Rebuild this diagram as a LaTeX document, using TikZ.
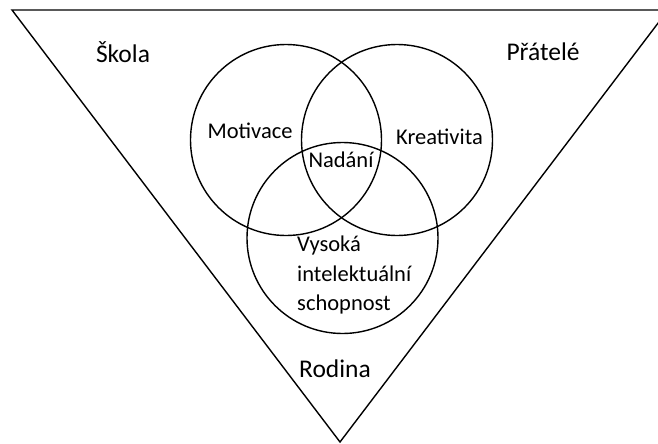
\documentclass[tikz,border=0pt]{standalone}
\usepackage{fontspec}
\setmainfont{Carlito}
\begin{document}
\begin{tikzpicture}[x=1pt,y=-1pt,
  shape line/.style={line width=1.4pt,black},
  lbl/.style={font=\fontsize{22.5}{29.5}\selectfont,inner sep=0pt},
  outer lbl/.style={font=\fontsize{25.5}{30}\selectfont,inner sep=0pt}]
\useasboundingbox (0,0) rectangle (658,444);
\coordinate (tl) at (12,10);
\coordinate (tr) at (668,10);
\coordinate (bt) at (340,442);
\draw[shape line] (tl) -- (tr) -- (bt) -- cycle;
\node[circle,draw,shape line,minimum size=191pt,inner sep=0pt] (mot) at (286,140) {};
\node[circle,draw,shape line,minimum size=191pt,inner sep=0pt] (kre) at (397,140) {};
\node[circle,draw,shape line,minimum size=191pt,inner sep=0pt] (vys) at (342.5,238) {};
\node[outer lbl] (skola) at (123,52) {Škola};
\node[outer lbl] (pratele) at (543,52) {Přátelé};
\node[lbl] (motl) at (250,131) {Motivace};
\node[lbl] (krel) at (439.5,137) {Kreativita};
\node[lbl] (nad) at (341,160) {Nadání};
\node[lbl,align=left,anchor=west] (vysl) at (297,275) {Vysoká\\intelektuální\\schopnost};
\node[outer lbl] (rod) at (335,369) {Rodina};
\end{tikzpicture}
\end{document}
